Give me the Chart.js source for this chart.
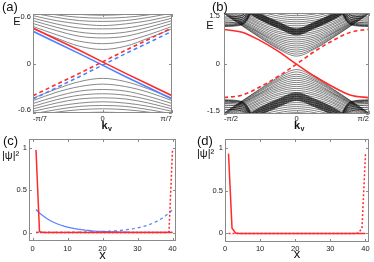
<!DOCTYPE html>
<html><head><meta charset="utf-8">
<script src="https://cdn.jsdelivr.net/npm/chart.js@4.4.1/dist/chart.umd.min.js"></script>
<style>
html,body{margin:0;padding:0;background:#fff;}
body{width:374px;height:262px;position:relative;overflow:hidden;}
.p{position:absolute;width:187px;height:131px;}
canvas{display:block;}
</style></head><body>
<div class="p" style="left:0;top:0"><canvas id="ca" width="187" height="131"></canvas></div>
<div class="p" style="left:187px;top:0"><canvas id="cb" width="187" height="131"></canvas></div>
<div class="p" style="left:0;top:131px"><canvas id="cc" width="187" height="131"></canvas></div>
<div class="p" style="left:187px;top:131px"><canvas id="cd" width="187" height="131"></canvas></div>
<script>
// ---------------- Panel (a): k_y in units of pi/7 ----------------
const kA = [-1, -0.667, -0.333, 0, 0.333, 0.667, 1];
const xTicksA = [-1, 0, 1];
const xLabelsA = ['-π/7', '0', 'π/7'];
const yTicksA = [-0.6, 0, 0.6];
const yLabelsA = ['-0.6', '0', '0.6'];
const redSolidA  = [0.43, 0.295, 0.16, 0.02, -0.12, -0.255, -0.39];
const redDashA   = [-0.39, -0.255, -0.12, 0.02, 0.16, 0.295, 0.43];
const blueSolidA = [0.39, 0.255, 0.12, -0.02, -0.16, -0.295, -0.43];
const blueDashA  = [-0.43, -0.295, -0.16, -0.02, 0.12, 0.255, 0.39];
// bulk bands: E at |k| = 0, 1/3, 2/3, 1 (x pi/7)
const bandsUpA = [
  [0.17, 0.21, 0.31, 0.42],
  [0.24, 0.27, 0.35, 0.45],
  [0.31, 0.33, 0.40, 0.485],
  [0.36, 0.38, 0.44, 0.52],
  [0.42, 0.43, 0.48, 0.55],
  [0.46, 0.48, 0.52, 0.58],
  [0.51, 0.52, 0.56, 0.61],
  [0.55, 0.56, 0.59, 0.64],
  [0.585, 0.595, 0.62, 0.67]
];
const bandsDownA = [
  [-0.18, -0.22, -0.31, -0.42],
  [-0.25, -0.28, -0.35, -0.45],
  [-0.315, -0.335, -0.40, -0.485],
  [-0.367, -0.385, -0.44, -0.52],
  [-0.416, -0.43, -0.48, -0.55],
  [-0.464, -0.48, -0.52, -0.58],
  [-0.509, -0.52, -0.56, -0.61],
  [-0.549, -0.56, -0.59, -0.64],
  [-0.59, -0.60, -0.625, -0.67]
];

// ---------------- Panel (b): k_y in units of pi/2 ----------------
const kB = [-1, -0.75, -0.5, -0.25, 0, 0.25, 0.5, 0.75, 1];
const xTicksB = [-1, 0, 1];
const xLabelsB = ['-π/2', '0', 'π/2'];
const yTicksB = [-1.5, 0, 1.5];
const yLabelsB = ['-1.5', '0', '1.5'];
const redSolidB = [1.01, 0.93, 0.68, 0.36, -0.02, -0.38, -0.69, -0.94, -1.02];
const redDashB  = [-1.01, -0.94, -0.69, -0.38, -0.02, 0.36, 0.68, 0.93, 1.02];
// bulk bands: E at |k| = 0, 1/4, 1/2, 3/4, 1 (x pi/2)
const bowlUpB = [
  [0.22,0.43,0.76,1.12,1.48],[0.28,0.46,0.78,1.13,1.49],[0.34,0.50,0.81,1.15,1.50],
  [0.40,0.54,0.84,1.17,1.52],[0.46,0.59,0.88,1.19,1.53],[0.52,0.64,0.90,1.21,1.55],
  [0.58,0.69,0.93,1.24,1.57],[0.64,0.74,0.97,1.27,1.60],[0.70,0.79,1.01,1.30,1.62],
  [0.76,0.84,1.06,1.34,1.65],[0.82,0.90,1.10,1.37,1.68],[0.88,0.95,1.15,1.41,1.72],
  [0.94,1.01,1.19,1.45,1.75],[1.00,1.07,1.24,1.48,1.79],[1.06,1.12,1.29,1.52,1.82],
  [1.12,1.18,1.33,1.56,1.86],[1.18,1.24,1.38,1.60,1.90],[1.24,1.29,1.43,1.64,1.94],
  [1.30,1.35,1.49,1.70,1.98],[1.36,1.41,1.54,1.75,2.00],[1.42,1.47,1.60,1.80,2.00],
  [1.48,1.52,1.65,1.85,2.00]
];
const bowlDownB = [
  [-0.18,-0.41,-0.75,-1.11,-1.47],[-0.25,-0.45,-0.77,-1.12,-1.48],[-0.32,-0.49,-0.80,-1.14,-1.49],
  [-0.38,-0.53,-0.83,-1.16,-1.51],[-0.44,-0.58,-0.87,-1.18,-1.52],[-0.50,-0.63,-0.89,-1.20,-1.54],
  [-0.56,-0.68,-0.92,-1.23,-1.56],[-0.62,-0.73,-0.96,-1.26,-1.59],[-0.68,-0.78,-1.00,-1.29,-1.61],
  [-0.74,-0.83,-1.05,-1.33,-1.64],[-0.80,-0.89,-1.09,-1.36,-1.67],[-0.86,-0.94,-1.14,-1.40,-1.71],
  [-0.92,-1.00,-1.18,-1.44,-1.74],[-0.98,-1.06,-1.23,-1.47,-1.78],[-1.04,-1.11,-1.28,-1.51,-1.81],
  [-1.10,-1.17,-1.32,-1.55,-1.85],[-1.16,-1.23,-1.37,-1.59,-1.89],[-1.22,-1.28,-1.42,-1.63,-1.93],
  [-1.28,-1.34,-1.48,-1.69,-1.97],[-1.34,-1.40,-1.53,-1.74,-2.00],[-1.40,-1.46,-1.59,-1.79,-2.00],
  [-1.46,-1.51,-1.64,-1.84,-2.00]
];
const denseUpB = [
  [0.85,1.05,1.30,1.62,1.95],[0.87,1.07,1.32,1.64,1.97],[0.89,1.09,1.34,1.66,1.99],
  [0.91,1.11,1.36,1.68,2.01],[0.93,1.13,1.38,1.70,2.03],[0.95,1.15,1.40,1.72,2.05],
  [0.97,1.17,1.42,1.74,2.07],[0.99,1.19,1.44,1.76,2.09],[1.01,1.21,1.46,1.78,2.11],
  [1.03,1.23,1.48,1.80,2.13]
];
const denseDownB = [
  [-0.87,-1.06,-1.31,-1.63,-1.95],[-0.895,-1.085,-1.335,-1.655,-1.97],[-0.92,-1.11,-1.36,-1.68,-1.99],
  [-0.945,-1.135,-1.385,-1.705,-2.01],[-0.97,-1.16,-1.41,-1.73,-2.03],[-0.995,-1.185,-1.435,-1.755,-2.05],
  [-1.02,-1.21,-1.46,-1.78,-2.07],[-1.045,-1.235,-1.485,-1.805,-2.09],[-1.07,-1.26,-1.51,-1.83,-2.11],
  [-1.095,-1.285,-1.535,-1.855,-2.13]
];
const edgeUpB = [
  [3.0,2.6,2.00,1.15,1.10],[3.0,2.6,2.05,1.17,1.12],[3.0,2.6,2.10,1.19,1.14],
  [3.0,2.6,2.15,1.22,1.17],[3.0,2.6,2.20,1.26,1.21],[3.0,2.6,2.25,1.31,1.26],
  [3.0,2.6,2.30,1.37,1.32],[3.0,2.6,2.35,1.43,1.38]
];
const edgeDownB = [
  [-3.0,-2.6,-2.00,-1.13,-1.08],[-3.0,-2.6,-2.05,-1.15,-1.10],[-3.0,-2.6,-2.10,-1.17,-1.12],
  [-3.0,-2.6,-2.15,-1.20,-1.15],[-3.0,-2.6,-2.20,-1.24,-1.19],[-3.0,-2.6,-2.25,-1.29,-1.24],
  [-3.0,-2.6,-2.30,-1.35,-1.30],[-3.0,-2.6,-2.35,-1.41,-1.36]
];

// ---------------- Panels (c),(d): site index x ----------------
const xSites = [1,2,3,4,5,6,7,8,9,10,11,12,13,14,15,16,17,18,19,20,21,22,23,24,25,26,27,28,29,30,31,32,33,34,35,36,37,38,39,40];
const xTicksCD = [0, 10, 20, 30, 40];
const xLabelsCD = ['0', '10', '20', '30', '40'];
const yTicksCD = [0, 0.5, 1];
const yLabelsCD = ['0', '0.5', '1'];
const redSolidC = [0.97,0.01,0,0,0,0,0,0,0,0,0,0,0,0,0,0,0,0,0,0,0,0,0,0,0,0,0,0,0,0,0,0,0,0,0,0,0,0,0,0];
const redDotC   = [0,0,0,0,0,0,0,0,0,0,0,0,0,0,0,0,0,0,0,0,0,0,0,0,0,0,0,0,0,0,0,0,0,0,0,0,0,0,0.01,0.97];
const blueSolidC = [0.27,0.23,0.196,0.167,0.142,0.121,0.103,0.088,0.075,0.064,0.054,0.046,0.039,0.033,0.028,0.024,0.02,0.017,0.015,0.013,0.011,0.009,0.008,0.007,0.006,0.005,0.004,0.003,0.003,0.002,0.002,0.002,0.001,0.001,0.001,0.001,0.001,0.001,0.001,0.001];
const blueDashC  = [0.001,0.001,0.001,0.001,0.001,0.001,0.001,0.001,0.002,0.002,0.002,0.003,0.003,0.004,0.005,0.006,0.007,0.008,0.009,0.011,0.013,0.015,0.017,0.02,0.024,0.028,0.033,0.039,0.046,0.054,0.064,0.075,0.088,0.103,0.121,0.142,0.167,0.196,0.23,0.27];
const redSolidD = [0.93,0.06,0.005,0,0,0,0,0,0,0,0,0,0,0,0,0,0,0,0,0,0,0,0,0,0,0,0,0,0,0,0,0,0,0,0,0,0,0,0,0];
const redDotD   = [0,0,0,0,0,0,0,0,0,0,0,0,0,0,0,0,0,0,0,0,0,0,0,0,0,0,0,0,0,0,0,0,0,0,0,0,0,0.005,0.06,0.93];

// ---------------- helpers ----------------
const FONT = "'Liberation Sans', Arial, Helvetica, sans-serif";
const RED = '#ff2b2b', BLUE = '#4f80ff';
const TICK_SIZE = 7.5;
const mirror4 = h => [h[3], h[2], h[1], h[0], h[1], h[2], h[3]];
const mirror5 = h => [h[4], h[3], h[2], h[1], h[0], h[1], h[2], h[3], h[4]];
function ds(xs, ys, color, width, dash, mono) {
  return {
    data: xs.map((x, i) => ({x: x, y: ys[i]})),
    borderColor: color, borderWidth: width, borderDash: dash || [],
    pointRadius: 0, fill: false, clip: 0, tension: 0,
    cubicInterpolationMode: mono ? 'monotone' : 'default'
  };
}

const framePlugin = {
  id: 'frame',
  afterDatasetsDraw(chart, args, opts) {
    const ctx = chart.ctx, a = chart.chartArea, sx = chart.scales.x, sy = chart.scales.y;
    ctx.save();
    ctx.strokeStyle = '#8a8a8a';
    ctx.lineWidth = 1;
    ctx.beginPath();
    const tl = 3;
    sx.ticks.forEach(t => {
      const p = Math.round(sx.getPixelForValue(t.value)) + 0.5;
      ctx.moveTo(p, a.bottom); ctx.lineTo(p, a.bottom - tl);
      ctx.moveTo(p, a.top); ctx.lineTo(p, a.top + tl);
    });
    sy.ticks.forEach(t => {
      const p = Math.round(sy.getPixelForValue(t.value)) + 0.5;
      ctx.moveTo(a.left, p); ctx.lineTo(a.left + tl, p);
      ctx.moveTo(a.right, p); ctx.lineTo(a.right - tl, p);
    });
    ctx.stroke();
    ctx.strokeRect(Math.round(a.left) + 0.5, Math.round(a.top) + 0.5,
                   Math.round(a.right - a.left) - 1, Math.round(a.bottom - a.top) - 1);
    ctx.restore();
  },
  afterDraw(chart, args, opts) {
    const ctx = chart.ctx;
    ctx.save();
    ctx.fillStyle = '#111';
    ctx.textBaseline = 'middle';
    (opts.texts || []).forEach(t => {
      ctx.font = t.font + ' ' + FONT;
      ctx.textAlign = t.align || 'left';
      ctx.fillText(t.t, t.x, t.y);
    });
    ctx.restore();
  }
};

function makeChart(id, datasets, c) {
  return new Chart(document.getElementById(id), {
    type: 'line',
    data: {datasets: datasets},
    plugins: [framePlugin],
    options: {
      responsive: false, animation: false, events: [],
      layout: {padding: {top: c.padTop, right: c.padRight, left: 0, bottom: 0}},
      plugins: {legend: {display: false}, tooltip: {enabled: false}, frame: {texts: c.texts}},
      scales: {
        x: {
          type: 'linear', min: c.xMin, max: c.xMax,
          afterBuildTicks: s => { s.ticks = c.xTicks.map(v => ({value: v})); },
          afterFit: s => { s.height = c.xH; },
          grid: {display: false, drawTicks: false, tickLength: 0},
          border: {display: false},
          ticks: {font: {family: FONT, size: TICK_SIZE}, color: '#222', padding: c.xPad, maxRotation: 0, autoSkip: false,
                  align: c.xAlign || 'center',
                  callback: (v, i) => c.xLabels[i]},
          title: c.xTitle ? {display: true, text: c.xTitle, color: '#111',
                  font: {family: FONT, size: 13, lineHeight: 1}, padding: {top: 0, bottom: c.xTitlePad || 0}} : {display: false}
        },
        y: {
          type: 'linear', min: c.yMin, max: c.yMax,
          afterBuildTicks: s => { s.ticks = c.yTicks.map(v => ({value: v})); },
          afterFit: s => { s.width = c.yW; },
          grid: {display: false, drawTicks: false, tickLength: 0},
          border: {display: false},
          ticks: {font: {family: FONT, size: TICK_SIZE, lineHeight: c.yLH || 1}, color: '#222', padding: c.yPad, autoSkip: false,
                  callback: (v, i, arr) => {
                    const lab = c.yLabels[i];
                    if (!c.yInner) return lab;
                    if (i === arr.length - 1) return ['', lab];
                    if (i === 0) return [lab, ''];
                    return lab;
                  }}
        }
      }
    }
  });
}

// ---- (a)
const dsA = [
  ds(kA, redSolidA, RED, 1.6),
  ds(kA, redDashA, RED, 1.6, [4, 3]),
  ds(kA, blueSolidA, BLUE, 1.6),
  ds(kA, blueDashA, BLUE, 1.6, [4, 3])
];
bandsUpA.forEach(h => dsA.push(ds(kA, mirror4(h), '#6a6a6a', 0.8, null, true)));
bandsDownA.forEach(h => dsA.push(ds(kA, mirror4(h), '#6a6a6a', 0.8, null, true)));
makeChart('ca', dsA, {
  padTop: 14, padRight: 15, xH: 18, yW: 33, xPad: 1.5, yPad: 2,
  xMin: -1, xMax: 1, yMin: -0.6, yMax: 0.6,
  xTicks: xTicksA, xLabels: xLabelsA, yTicks: yTicksA, yLabels: yLabelsA, xAlign: 'inner',
  yInner: true, yLH: 0.7,
  texts: [
    {t: '(a)', x: 2, y: 7, font: '13px'},
    {t: 'E', x: 17, y: 22, font: '11px', align: 'center'},
    {t: 'k', x: 104.5, y: 126, font: 'bold 11px', align: 'center'},
    {t: 'y', x: 108, y: 129, font: 'bold 7px'}
  ]
});

// ---- (b)
const dsB = [
  ds(kB, redSolidB, RED, 1.6, null, true),
  ds(kB, redDashB, RED, 1.6, [4, 3], true)
];
[bowlUpB, bowlDownB].forEach(fam =>
  fam.forEach(h => dsB.push(ds(kB, mirror5(h), 'rgba(0,0,0,0.9)', 0.55, null, true))));
[denseUpB, denseDownB, edgeUpB, edgeDownB].forEach(fam =>
  fam.forEach(h => dsB.push(ds(kB, mirror5(h), '#000', 0.65, null, true))));
makeChart('cb', dsB, {
  padTop: 13, padRight: 5, xH: 17, yW: 37, xPad: 0.5, yPad: 4,
  xMin: -1, xMax: 1, yMin: -1.5, yMax: 1.5,
  xTicks: xTicksB, xLabels: xLabelsB, yTicks: yTicksB, yLabels: yLabelsB, xAlign: 'inner',
  yInner: true, yLH: 0.8,
  texts: [
    {t: '(b)', x: 25, y: 7, font: '13px'},
    {t: 'E', x: 23, y: 26, font: '11px', align: 'center'},
    {t: 'k', x: 110, y: 126, font: 'bold 11px', align: 'center'},
    {t: 'y', x: 113.5, y: 129, font: 'bold 7px'}
  ]
});

// ---- (c)
makeChart('cc', [
  ds(xSites, redSolidC, RED, 1.5),
  ds(xSites, redDotC, RED, 1.5, [2, 2]),
  ds(xSites, blueSolidC, BLUE, 1.2),
  ds(xSites, blueDashC, BLUE, 1.3, [3, 3])
], {
  padTop: 8, padRight: 11, xH: 21, yW: 29, xPad: 3.5, yPad: 2,
  xMin: -1, xMax: 41, yMin: -0.1, yMax: 1.1,
  xTicks: xTicksCD, xLabels: xLabelsCD, yTicks: yTicksCD, yLabels: yLabelsCD,
  xTitle: 'x', xTitlePad: 0,
  texts: [
    {t: '(c)', x: 3, y: 10, font: '13px'},
    {t: '|ψ|²', x: 2, y: 25, font: '11px'}
  ]
});

// ---- (d)
makeChart('cd', [
  ds(xSites, redSolidD, RED, 1.5),
  ds(xSites, redDotD, RED, 1.5, [2, 2])
], {
  padTop: 8, padRight: 5, xH: 20, yW: 38, xPad: 2.5, yPad: 2,
  xMin: 0, xMax: 41, yMin: -0.1, yMax: 1.1,
  xTicks: xTicksCD, xLabels: xLabelsCD, yTicks: yTicksCD, yLabels: yLabelsCD,
  xTitle: 'x', xTitlePad: 1.5,
  texts: [
    {t: '(d)', x: 10, y: 10, font: '13px'},
    {t: '|ψ|²', x: 10, y: 23, font: '11px'}
  ]
});
</script>
</body></html>
